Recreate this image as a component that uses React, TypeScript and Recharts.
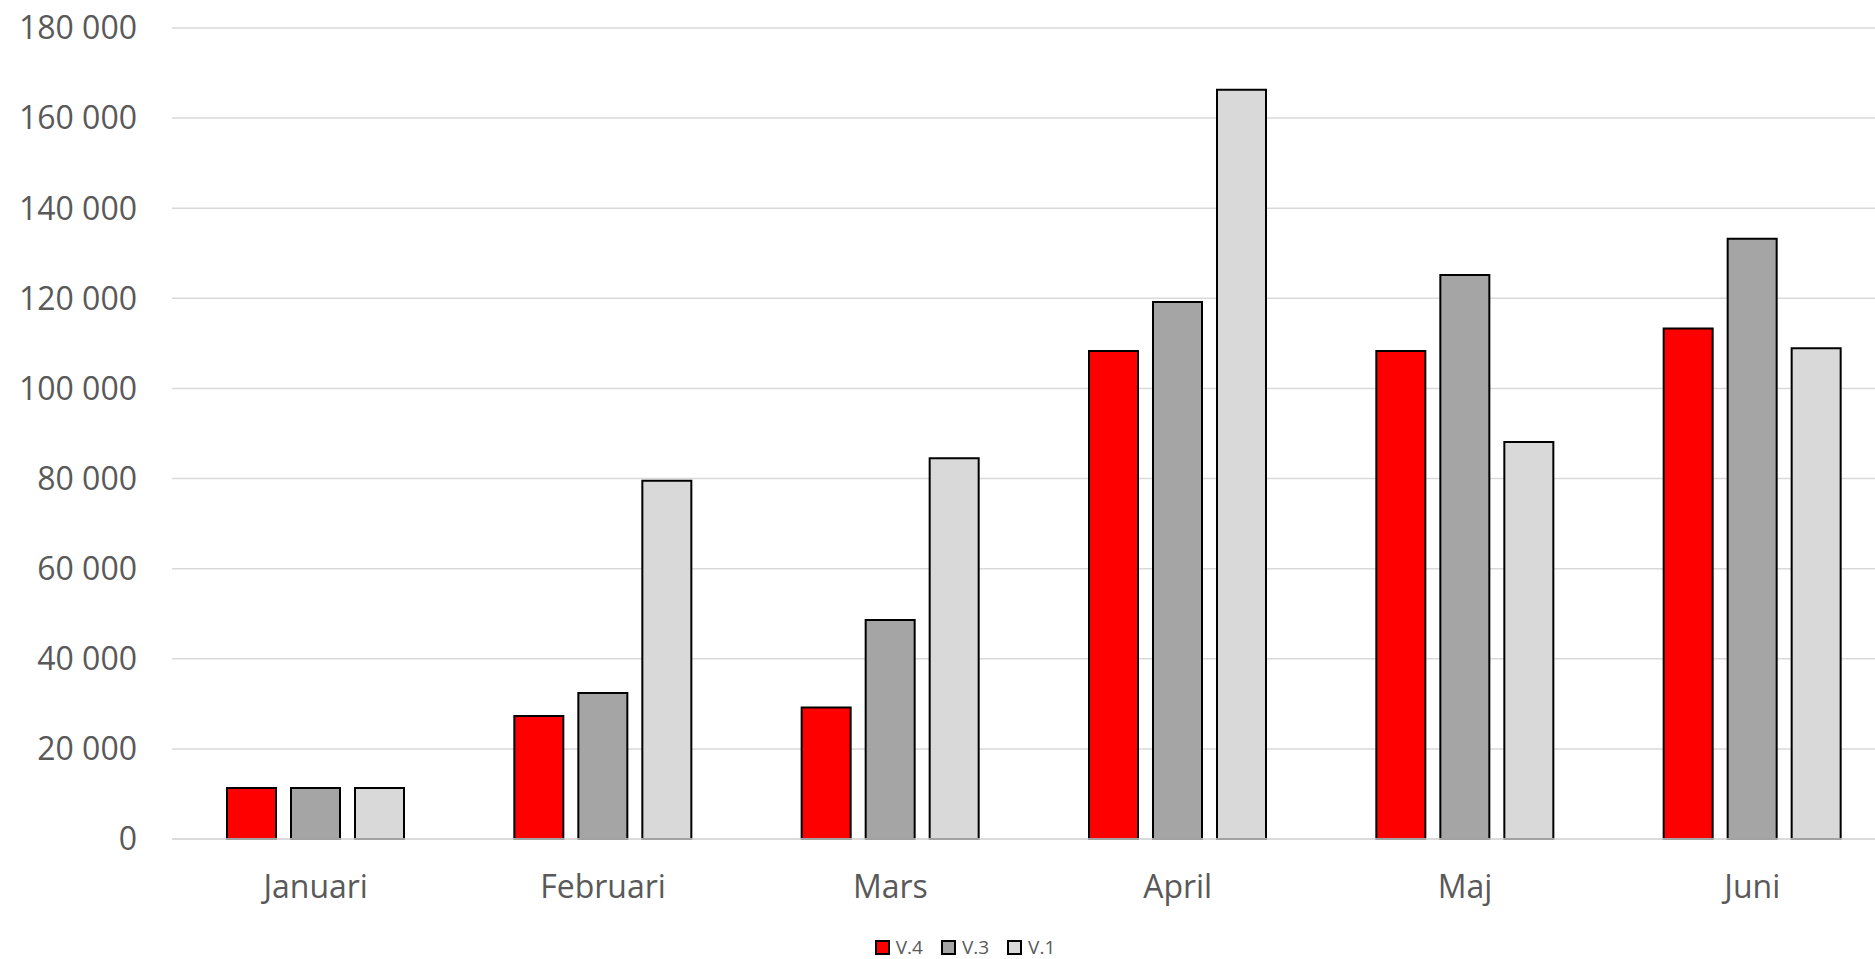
import { BarChart, Bar, XAxis, YAxis, CartesianGrid, Legend } from "recharts";

const months = ["Januari", "Februari", "Mars", "April", "Maj", "Juni"];
const v4 = [11300, 27300, 29200, 108300, 108300, 113300];
const v3 = [11300, 32400, 48600, 119200, 125200, 133200];
const v1 = [11300, 79500, 84500, 166300, 88100, 108900];
const yTicks = [0, 20000, 40000, 60000, 80000, 100000, 120000, 140000, 160000, 180000];

const series = [
  { key: "v4", name: "V.4", color: "#ff0000" },
  { key: "v3", name: "V.3", color: "#a5a5a5" },
  { key: "v1", name: "V.1", color: "#d9d9d9" },
];

const data = months.map((month, i) => ({
  month,
  v4: v4[i],
  v3: v3[i],
  v1: v1[i],
}));

const font = "'Open Sans', sans-serif";
const textColor = "#595959";

const formatThousands = (v: number) =>
  String(v).replace(/\B(?=(\d{3})+(?!\d))/g, " ");

const seriesOrder = (name: string) => series.findIndex((s) => s.name === name);

function LegendContent({ payload }: { payload?: Array<{ value: string; color: string }> }) {
  const items = [...(payload ?? [])].sort(
    (a, b) => seriesOrder(a.value) - seriesOrder(b.value)
  );
  return (
    <div
      style={{
        display: "flex",
        justifyContent: "center",
        alignItems: "center",
        gap: 18,
        fontFamily: font,
        fontSize: 19,
        color: textColor,
        lineHeight: "24px",
      }}
    >
      {items.map((p) => (
        <div key={p.value} style={{ display: "flex", alignItems: "center", gap: 6 }}>
          <span
            style={{
              display: "inline-block",
              width: 11,
              height: 11,
              background: p.color,
              border: "2px solid #000",
            }}
          />
          <span>{p.value}</span>
        </div>
      ))}
    </div>
  );
}

export default function App() {
  return (
    <div
      style={{
        position: "fixed",
        left: 0,
        top: 0,
        width: 1875,
        height: 959,
        overflow: "hidden",
        background: "#fff",
      }}
    >
      <BarChart
        width={1896}
        height={959}
        data={data}
        margin={{ top: 28, right: 0, bottom: 0, left: 0 }}
        barSize={49}
        barGap={15}
        style={{ fontFamily: font }}
      >
        <CartesianGrid vertical={false} stroke="#d9d9d9" strokeWidth={1.5} />
        <XAxis
          dataKey="month"
          height={96}
          axisLine={{ stroke: "#d9d9d9", strokeWidth: 1.5 }}
          tickLine={false}
          tickSize={0}
          tickMargin={36}
          tick={{ fontSize: 32, fill: textColor, fontFamily: font }}
        />
        <YAxis
          width={172}
          domain={[0, 180000]}
          ticks={yTicks}
          axisLine={false}
          tickLine={false}
          tickSize={0}
          tickMargin={35}
          tickFormatter={formatThousands}
          tick={{ fontSize: 32, fill: textColor, fontFamily: font }}
        />
        <Legend
          verticalAlign="bottom"
          height={24}
          wrapperStyle={{ left: 17 }}
          content={<LegendContent />}
        />
        {series.map((s) => (
          <Bar
            key={s.key}
            dataKey={s.key}
            name={s.name}
            fill={s.color}
            stroke="#000"
            strokeWidth={2}
            isAnimationActive={false}
          />
        ))}
      </BarChart>
    </div>
  );
}
